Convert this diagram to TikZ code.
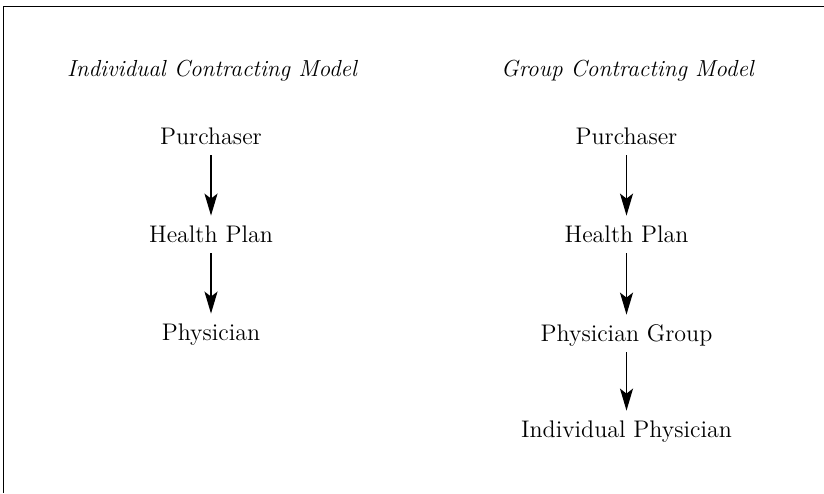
\documentclass[tikz,border=0pt]{standalone}
\usepackage{tikz}
\usetikzlibrary{arrows.meta,positioning}

\begin{document}
\begin{tikzpicture}[
    x=0.5pt, y=-0.5pt,
    title/.style={anchor=base, font=\fontsize{11.6}{14}\selectfont\itshape},
    party/.style={anchor=base, font=\fontsize{12}{14}\selectfont,
        text height=8pt, text depth=2.5pt, inner ysep=3pt},
    arrow/.style={-{Stealth[length=11pt, width=6.5pt, inset=2.5pt]}, line width=0.8pt, shorten >=2pt}
]
    \useasboundingbox (0,0) rectangle (824,493);
    \draw[line width=0.9pt] (824,6.5) -- (3.5,6.5) -- (3.5,493);

    % individual contracting
    \node[title] (indT) at (212,76) {Individual Contracting Model};
    \node[party] (indP) at (211,144) {Purchaser};
    \node[party] (indH) at (211,242) {Health Plan};
    \node[party] (indD) at (211,340) {Physician};

    % group contracting
    \node[title] (grpT) at (627.5,76) {Group Contracting Model};
    \node[party] (grpP) at (626.5,144) {Purchaser};
    \node[party] (grpH) at (626.5,242) {Health Plan};
    \node[party] (grpG) at (626.5,341) {Physician Group};
    \node[party] (grpD) at (626.5,437) {Individual Physician};

    \draw[arrow] (indP) -- (indH);
    \draw[arrow] (indH) -- (indD);

    \draw[arrow] (grpP) -- (grpH);
    \draw[arrow] (grpH) -- (grpG);
    \draw[arrow] (grpG) -- (grpD);
\end{tikzpicture}
\end{document}
